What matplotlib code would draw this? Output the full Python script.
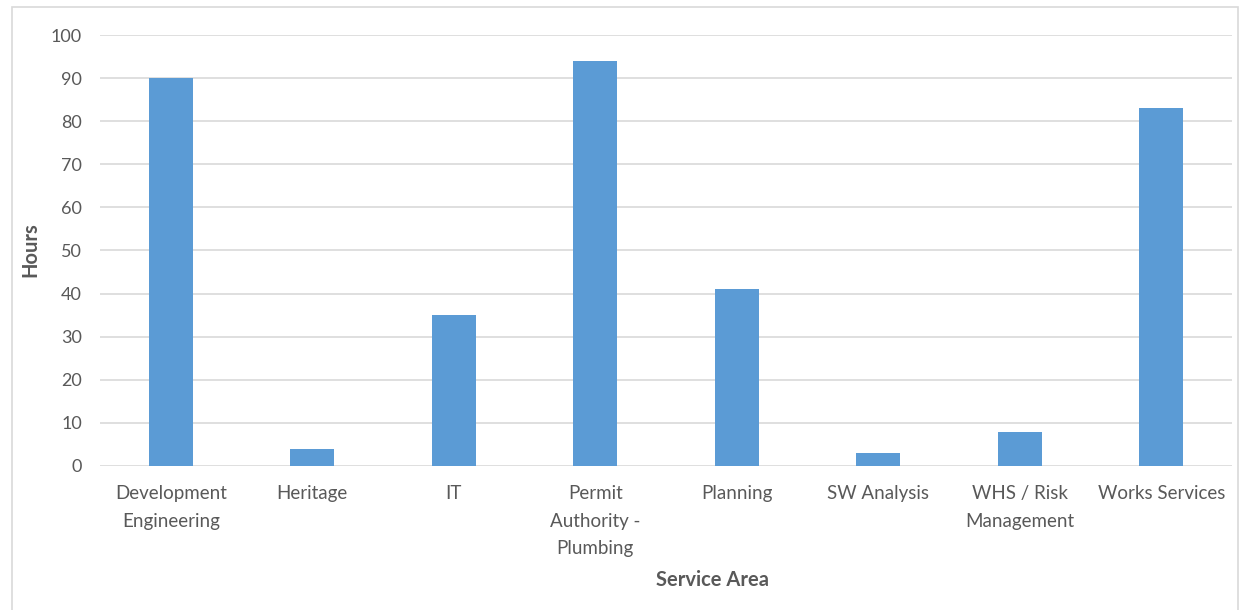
import matplotlib.pyplot as plt
from matplotlib.patches import Rectangle

# -----------------------------
# Data
# -----------------------------
areas = [
    "Development\nEngineering",
    "Heritage",
    "IT",
    "Permit\nAuthority -\nPlumbing",
    "Planning",
    "SW Analysis",
    "WHS / Risk\nManagement",
    "Works Services",
]
hours = [90, 4, 35, 94, 41, 3, 8, 83]
y_ticks = [0, 10, 20, 30, 40, 50, 60, 70, 80, 90, 100]

plt.rcParams["font.family"] = ["Lato", "DejaVu Sans"]

W, H = 1240, 610
fig = plt.figure(figsize=(W / 100, H / 100), dpi=100, facecolor="white")

# plot area in pixel terms: x 100..1232, y 35 (100) .. 466 (0)
ax = fig.add_axes([100 / W, 1 - 466 / H, 1132 / W, 431 / H])

x = list(range(len(areas)))
ax.bar(x, hours, width=0.31, color="#5b9bd5", zorder=3)

ax.set_xlim(-0.5, len(areas) - 0.5)
ax.set_ylim(0, 100)
ax.set_yticks(y_ticks)
ax.set_xticks(x)
ax.set_xticklabels(areas, fontsize=13.5, color="#595959", linespacing=1.72)
ax.tick_params(axis="y", labelsize=13, labelcolor="#595959", length=0, pad=13)
ax.tick_params(axis="x", length=0, pad=14)
ax.grid(axis="y", color="#d9d9d9", linewidth=1.2, zorder=0)

for side in ["top", "right", "left", "bottom"]:
    ax.spines[side].set_visible(False)

# axis titles
fig.text(30 / W, 1 - 250 / H, "Hours", rotation=90, fontsize=14.5, fontweight="bold",
         color="#595959", ha="center", va="center")
fig.text(712 / W, 1 - 580 / H, "Service Area", fontsize=14.5, fontweight="bold",
         color="#595959", ha="center", va="center")

# chart border
fig.patches.append(Rectangle((12 / W, -0.05), 1226 / W, 1 - 7 / H + 0.05,
                             transform=fig.transFigure, fill=False,
                             edgecolor="#d9d9d9", linewidth=1.2))

fig.savefig("out.png", dpi=100, facecolor="white")
